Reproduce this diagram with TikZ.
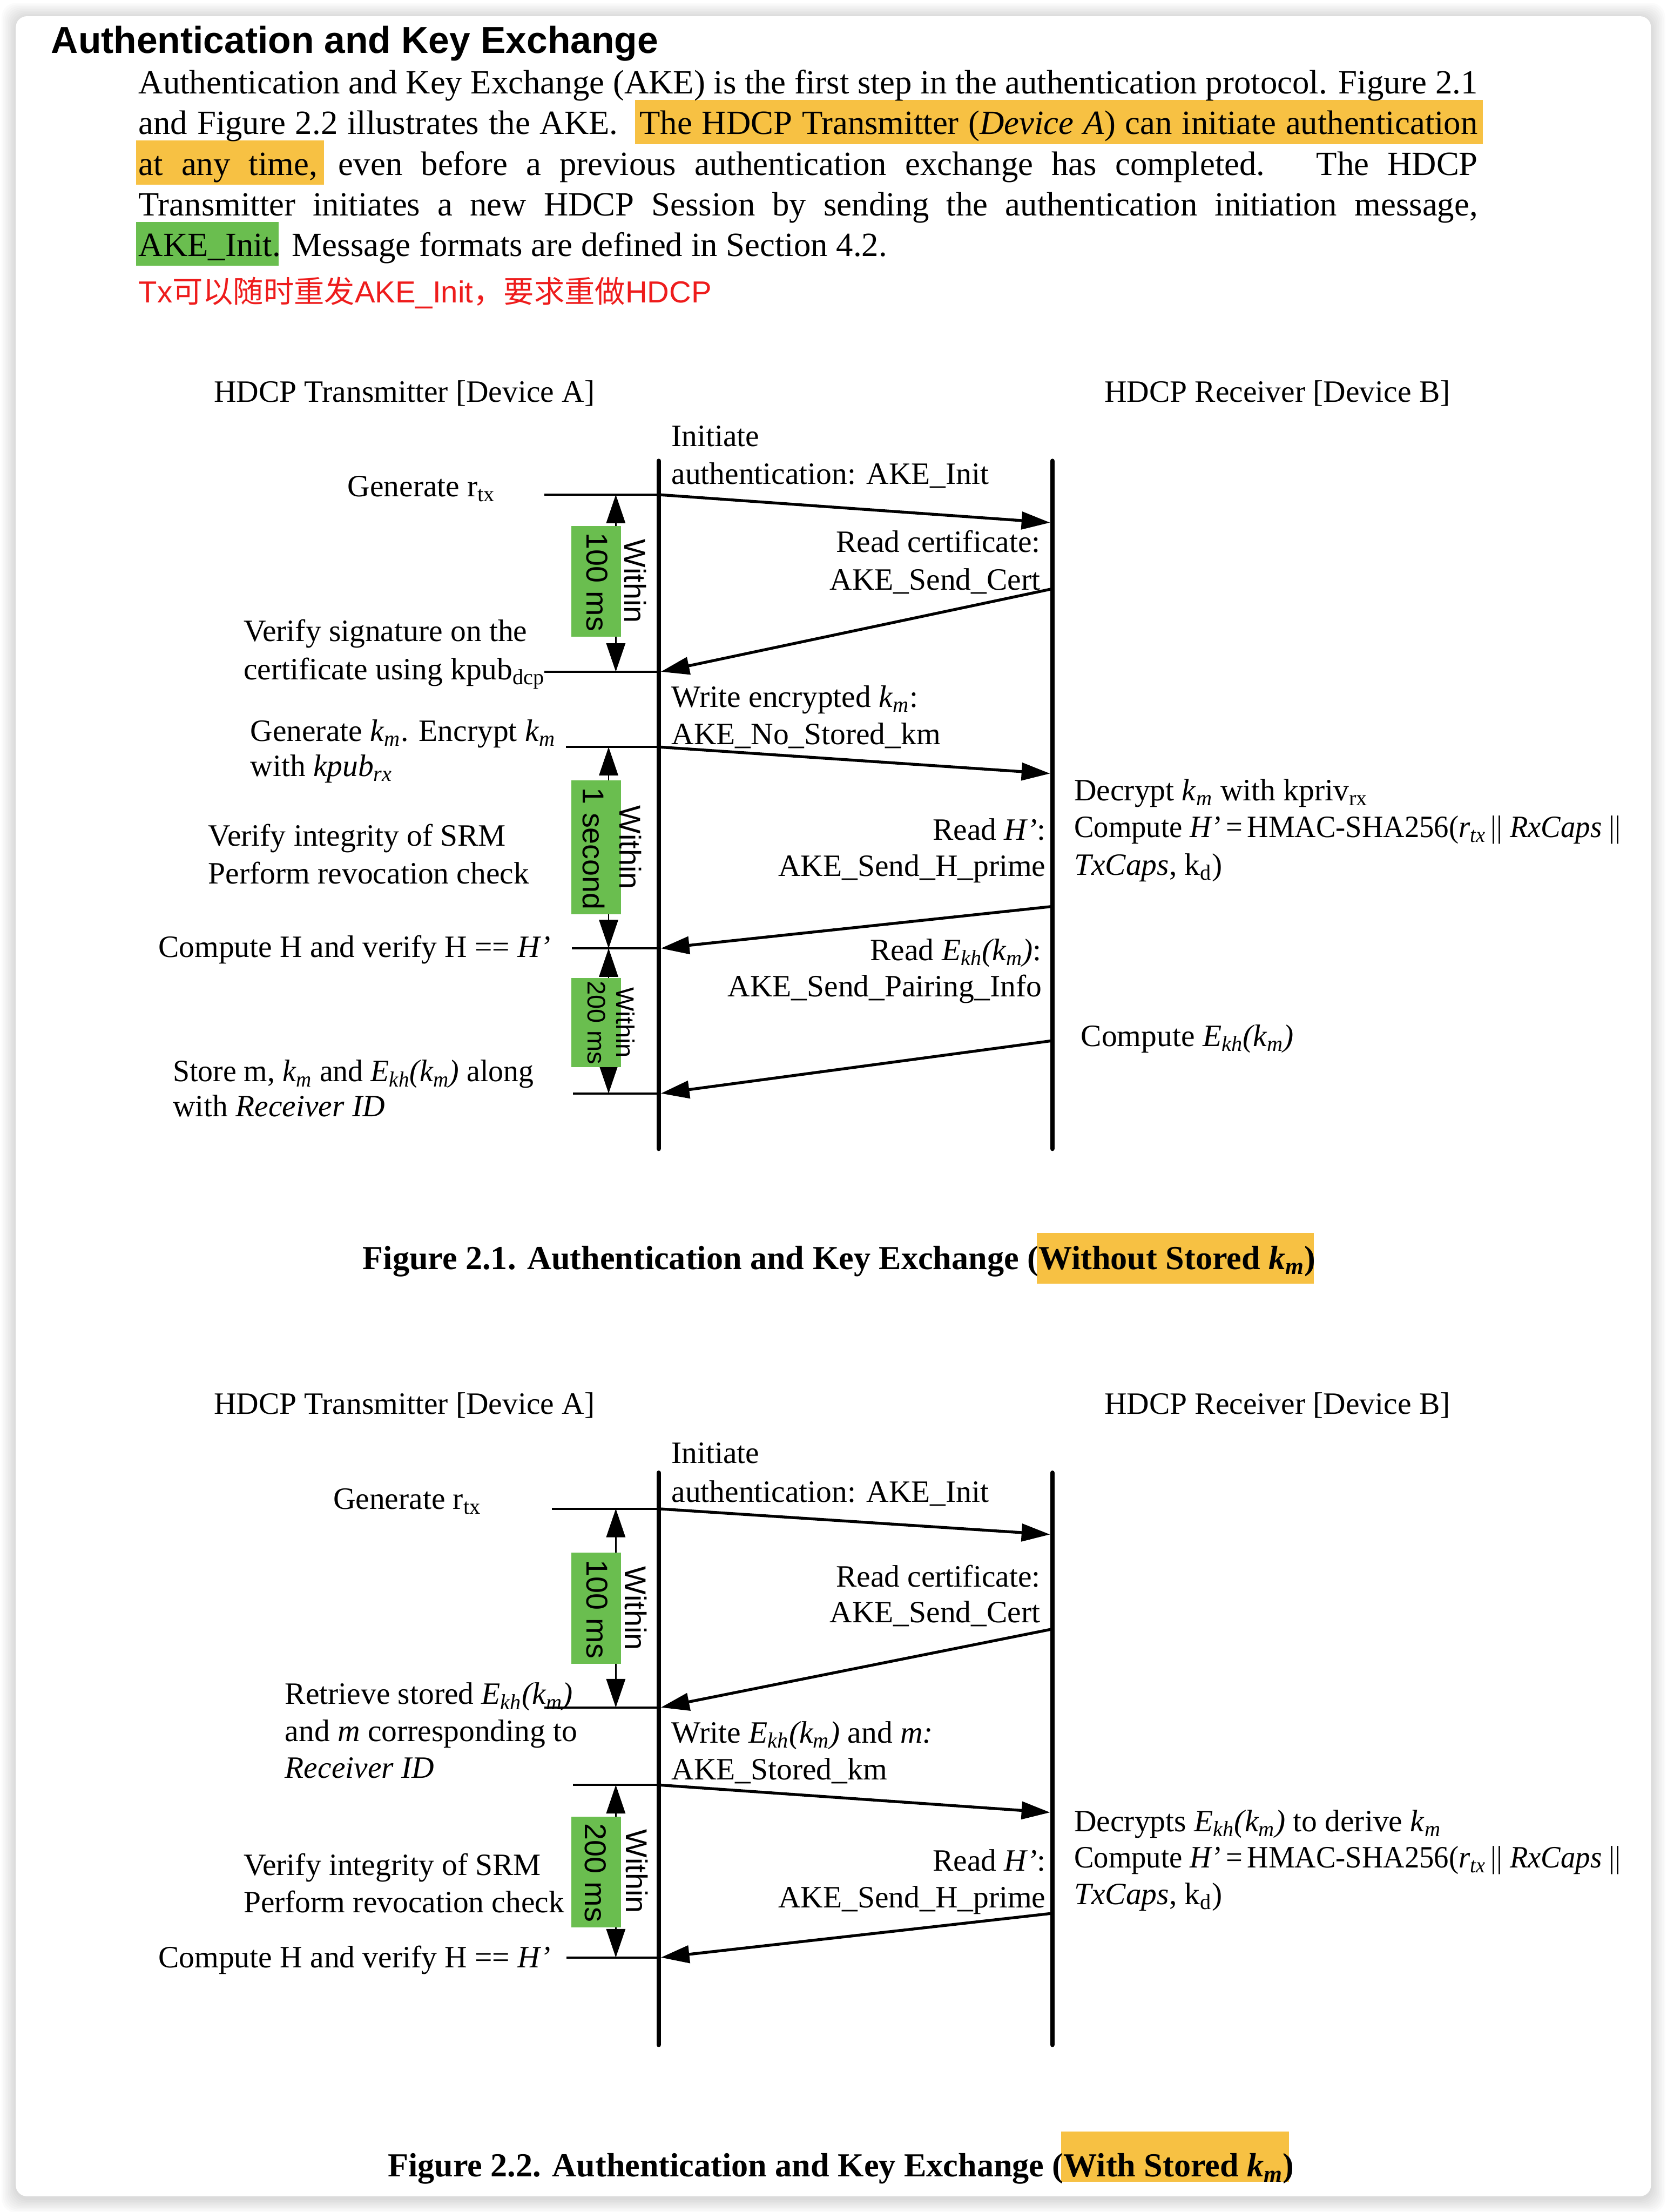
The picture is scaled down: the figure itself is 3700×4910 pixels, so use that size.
\documentclass[tikz,border=0pt]{standalone}
\usepackage{fontspec}
\setmainfont{Liberation Serif}
\setsansfont{Liberation Sans}
\newfontfamily\cjk{Noto Sans CJK SC}
\usetikzlibrary{arrows.meta}
\definecolor{hlorange}{RGB}{247,193,67}
\definecolor{hlgreen}{RGB}{106,190,79}
\definecolor{redtxt}{RGB}{238,28,28}
\newcommand{\dfont}{\fontsize{19.6pt}{23.6pt}\selectfont}
\newcommand{\bfont}{\fontsize{21.4pt}{25.7pt}\selectfont}
\newcommand{\km}{\textit{k}\textsubscript{\textit{m}}}
\newcommand{\Ekh}{\textit{E}\textsubscript{\textit{kh}}\textit{(\km)}}
\newcommand{\Hp}{\textit{H’}}
\newcommand{\hmacline}{\scalebox{0.95}[1]{Compute \Hp{}\,=\,HMAC-SHA256(\textit{r\textsubscript{tx}}\,|| \textit{RxCaps} ||}}
\begin{document}
\begin{tikzpicture}[x=0.01cm,y=-0.01cm,
  lbl/.style={inner sep=0pt,font=\dfont},
  lw/.style={lbl,anchor=base west},
  le/.style={lbl,anchor=base east},
  body/.style={inner sep=0pt,anchor=base west,font=\bfont},
  msg/.style={line width=1.8pt,-{Triangle[length=18pt,width=11pt]}},
  tickline/.style={line width=1.3pt},
  life/.style={line width=2.8pt,line cap=round},
  dimarrow/.style={line width=0.9pt,{Triangle[length=18pt,width=12pt]}-{Triangle[length=18pt,width=12pt]}},
  gbox/.style={fill=hlgreen},
  glbl/.style={inner sep=0pt,rotate=-90,font=\sffamily\fontsize{19pt}{22pt}\selectfont},
  gsmall/.style={inner sep=0pt,rotate=-90,font=\sffamily\fontsize{16pt}{19pt}\selectfont},
  caption/.style={inner sep=0pt,anchor=base,font=\fontsize{21.2pt}{25pt}\selectfont\bfseries},
]
\useasboundingbox (0,0) rectangle (3700,4910);
% page and shadow
\fill[white] (0,0) rectangle (3700,4910);
\foreach \i in {1,...,9}{
  \fill[black,opacity=0.016,rounded corners=9pt] ({35-\i*3.5},{38-\i*3.5}) rectangle ({3665+\i*3.5},{4880+\i*3.5});
}
\fill[white,rounded corners=7pt] (35,36) rectangle (3665,4875);

% ---------- header text ----------
\node[inner sep=0pt,anchor=base west,font=\sffamily\bfseries\fontsize{23.7pt}{28pt}\selectfont] (head) at (113,118) {Authentication and Key Exchange};
\fill[hlorange] (1410,222) rectangle (3292,320);
\fill[hlorange] (302,312) rectangle (719,410);
\fill[hlgreen] (302,493) rectangle (618,590);
\node[body] (p1) at (307,208) {\makebox[29.71cm][s]{Authentication and Key Exchange (AKE) is the first step in the authentication protocol. Figure 2.1}};
\node[body] (p2) at (307,298) {\makebox[29.71cm][s]{and Figure 2.2 illustrates the AKE.\hspace{0.35em} The HDCP Transmitter (\textit{Device A}) can initiate authentication}};
\node[body] (p3) at (307,389) {\makebox[29.71cm][s]{at any time, even before a previous authentication exchange has completed.\hspace{0.3em} The HDCP}};
\node[body] (p4) at (307,479) {\makebox[29.71cm][s]{Transmitter initiates a new HDCP Session by sending the authentication initiation message,}};
\node[body] (p5) at (307,569) {AKE\_Init. Message formats are defined in Section 4.2.};
\node[inner sep=0pt,anchor=base west,text=redtxt,font=\sffamily\fontsize{19.2pt}{23pt}\selectfont] (note) at (307,672) {Tx{\cjk 可以随时重发}AKE\_Init{\cjk ，要求重做}HDCP};

% ================= FIGURE 2.1 =================
\node[lw] (ha1) at (474,892) {HDCP Transmitter [Device A]};
\node[lw] (hb1) at (2451,892) {HDCP Receiver [Device B]};

\coordinate (La) at (1462,1023); \coordinate (Lb) at (1462,2550);
\coordinate (Ra) at (2336,1023); \coordinate (Rb) at (2336,2550);
\draw[life] (La) -- (Lb);
\draw[life] (Ra) -- (Rb);

% tick lines
\coordinate (t1s) at (1208,1098); \coordinate (t1e) at (1462,1098);
\coordinate (t2s) at (1208,1491); \coordinate (t2e) at (1462,1491);
\coordinate (t3s) at (1256,1658); \coordinate (t3e) at (1462,1658);
\coordinate (t4s) at (1270,2105); \coordinate (t4e) at (1462,2105);
\coordinate (t5s) at (1272,2427); \coordinate (t5e) at (1462,2427);
\foreach \k in {1,...,5}{\draw[tickline] (t\k s) -- (t\k e);}

% messages
\coordinate (m1b) at (2331,1160);
\coordinate (m2a) at (2336,1307); \coordinate (m2b) at (1467,1491);
\coordinate (m3b) at (2331,1717);
\coordinate (m4a) at (2336,2012); \coordinate (m4b) at (1467,2105);
\coordinate (m5a) at (2336,2310); \coordinate (m5b) at (1467,2427);
\draw[msg] (t1e) -- (m1b);
\draw[msg] (m2a) -- (m2b);
\draw[msg] (t3e) -- (m3b);
\draw[msg] (m4a) -- (m4b);
\draw[msg] (m5a) -- (m5b);

% timing
\coordinate (d1a) at (1367,1098); \coordinate (d1b) at (1367,1491);
\coordinate (d2a) at (1351,1658); \coordinate (d2b) at (1351,2105);
\coordinate (d3a) at (1351,2105); \coordinate (d3b) at (1351,2427);
\draw[dimarrow] (d1a) -- (d1b);
\draw[dimarrow] (d2a) -- (d2b);
\draw[dimarrow] (d3a) -- (d3b);
\fill[gbox] (1268,1167) rectangle (1378,1413);
\fill[gbox] (1268,1732) rectangle (1378,2030);
\fill[gbox] (1268,2171) rectangle (1378,2369);
\node[glbl] (g1a) at (1326,1292) {100 ms};
\node[glbl] (g1b) at (1410,1290) {Within};
\node[glbl] (g2a) at (1318,1884) {1 second};
\node[glbl] (g2b) at (1400,1881) {Within};
\node[gsmall] (g3a) at (1324,2270) {200 ms};
\node[gsmall] (g3b) at (1388,2270) {Within};

% left labels
\node[lw] (l1) at (771,1102) {Generate r\textsubscript{tx}};
\node[lw] (l2a) at (540,1424) {Verify signature on the};
\node[lw] (l2b) at (540,1508) {certificate using kpub\textsubscript{dcp}};
\node[lw] (l3a) at (555,1645) {Generate \km. Encrypt \km};
\node[lw] (l3b) at (555,1723) {with \textit{kpub\textsubscript{rx}}};
\node[lw] (l4a) at (462,1878) {Verify integrity of SRM};
\node[lw] (l4b) at (462,1962) {Perform revocation check};
\node[lw] (l5) at (351,2125) {Compute H and verify H == \Hp};
\node[lw] (l6a) at (383,2401) {\scalebox{0.97}[1]{Store m, \km{} and \Ekh{} along}};
\node[lw] (l6b) at (383,2478) {with \textit{Receiver ID}};

% message labels
\node[lw] (s1a) at (1490,991) {Initiate};
\node[lw] (s1b) at (1490,1075) {authentication: AKE\_Init};
\node[le] (s2a) at (2310,1226) {Read certificate:};
\node[le] (s2b) at (2310,1310) {AKE\_Send\_Cert};
\node[lw] (s3a) at (1490,1570) {Write encrypted \km:};
\node[lw] (s3b) at (1490,1652) {AKE\_No\_Stored\_km};
\node[le] (s4a) at (2322,1865) {Read \Hp:};
\node[le] (s4b) at (2322,1945) {AKE\_Send\_H\_prime};
\node[le] (s5a) at (2313,2132) {Read \Ekh:};
\node[le] (s5b) at (2313,2212) {AKE\_Send\_Pairing\_Info};

% receiver labels
\node[lw] (r1a) at (2384,1777) {Decrypt \km{} with kpriv\textsubscript{rx}};
\node[lw] (r1b) at (2384,1858) {\hmacline};
\node[lw] (r1c) at (2384,1942) {\textit{TxCaps}, k\textsubscript{d})};
\node[lw] (r2) at (2399,2322) {Compute \Ekh};

\fill[hlorange] (2302,2737) rectangle (2916,2849);
\node[caption] (cap1) at (1863,2817) {Figure 2.1. Authentication and Key Exchange (Without Stored \km)};

% ================= FIGURE 2.2 =================
\node[lw] (ha2) at (474,3139) {HDCP Transmitter [Device A]};
\node[lw] (hb2) at (2451,3139) {HDCP Receiver [Device B]};

\coordinate (La2) at (1462,3269); \coordinate (Lb2) at (1462,4539);
\coordinate (Ra2) at (2336,3269); \coordinate (Rb2) at (2336,4539);
\draw[life] (La2) -- (Lb2);
\draw[life] (Ra2) -- (Rb2);

\coordinate (u1s) at (1225,3349); \coordinate (u1e) at (1462,3349);
\coordinate (u2s) at (1208,3790); \coordinate (u2e) at (1462,3790);
\coordinate (u3s) at (1272,3962); \coordinate (u3e) at (1462,3962);
\coordinate (u4s) at (1258,4345); \coordinate (u4e) at (1462,4345);
\foreach \k in {1,...,4}{\draw[tickline] (u\k s) -- (u\k e);}

\coordinate (n1b) at (2331,3406);
\coordinate (n2a) at (2336,3616); \coordinate (n2b) at (1467,3790);
\coordinate (n3b) at (2331,4023);
\coordinate (n4a) at (2336,4247); \coordinate (n4b) at (1467,4345);
\draw[msg] (u1e) -- (n1b);
\draw[msg] (n2a) -- (n2b);
\draw[msg] (u3e) -- (n3b);
\draw[msg] (n4a) -- (n4b);

\coordinate (e1a) at (1367,3349); \coordinate (e1b) at (1367,3790);
\coordinate (e2a) at (1367,3962); \coordinate (e2b) at (1367,4345);
\draw[dimarrow] (e1a) -- (e1b);
\draw[dimarrow] (e2a) -- (e2b);
\fill[gbox] (1268,3446) rectangle (1378,3693);
\fill[gbox] (1268,4033) rectangle (1378,4278);
\node[glbl] (g4a) at (1326,3572) {100 ms};
\node[glbl] (g4b) at (1412,3570) {Within};
\node[glbl] (g5a) at (1322,4157) {200 ms};
\node[glbl] (g5b) at (1414,4154) {Within};

\node[lw] (k1) at (739,3350) {Generate r\textsubscript{tx}};
\node[lw] (k2a) at (632,3783) {Retrieve stored \Ekh};
\node[lw] (k2b) at (632,3865) {and \textit{m} corresponding to};
\node[lw] (k2c) at (632,3947) {\textit{Receiver ID}};
\node[lw] (k3a) at (540,4162) {Verify integrity of SRM};
\node[lw] (k3b) at (540,4245) {Perform revocation check};
\node[lw] (k4) at (351,4367) {Compute H and verify H == \Hp};

\node[lw] (w1a) at (1490,3248) {Initiate};
\node[lw] (w1b) at (1490,3334) {authentication: AKE\_Init};
\node[le] (w2a) at (2310,3522) {Read certificate:};
\node[le] (w2b) at (2310,3602) {AKE\_Send\_Cert};
\node[lw] (w3a) at (1490,3869) {Write \Ekh{} and \textit{m:}};
\node[lw] (w3b) at (1490,3950) {AKE\_Stored\_km};
\node[le] (w4a) at (2322,4153) {Read \Hp:};
\node[le] (w4b) at (2322,4234) {AKE\_Send\_H\_prime};

\node[lw] (q1a) at (2384,4065) {Decrypts \Ekh{} to derive \km};
\node[lw] (q1b) at (2384,4146) {\hmacline};
\node[lw] (q1c) at (2384,4227) {\textit{TxCaps}, k\textsubscript{d})};

\fill[hlorange] (2356,4731) rectangle (2861,4843);
\node[caption] (cap2) at (1867,4832) {Figure 2.2. Authentication and Key Exchange (With Stored \km)};
\end{tikzpicture}
\end{document}
